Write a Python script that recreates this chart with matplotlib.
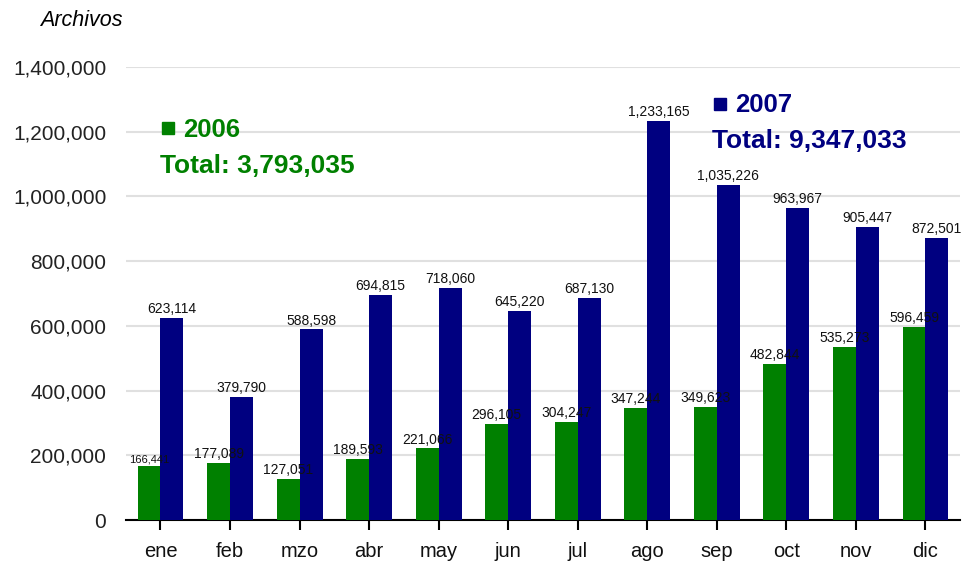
import numpy as np
import matplotlib.pyplot as plt
from matplotlib.lines import Line2D

months = ['ene', 'feb', 'mzo', 'abr', 'may', 'jun', 'jul', 'ago', 'sep', 'oct', 'nov', 'dic']
v2006 = [166441, 177089, 127051, 189593, 221066, 296105, 304247, 347244, 349623, 482844, 535273, 596459]
v2007 = [623114, 379790, 588598, 694815, 718060, 645220, 687130, 1233165, 1035226, 963967, 905447, 872501]
yticks = [0, 200000, 400000, 600000, 800000, 1000000, 1200000, 1400000]

green = '#008000'
navy = '#000080'

plt.rcParams['font.family'] = ['Liberation Sans', 'DejaVu Sans']

fig = plt.figure(figsize=(9.67, 5.61), dpi=100)
ax = fig.add_axes([0.130, 0.073, 0.863, 0.808])

x = np.arange(len(months))
w = 0.33
ax.bar(x - w/2, v2006, w, color=green, zorder=3)
ax.bar(x + w/2, v2007, w, color=navy, zorder=3)

for i in range(len(months)):
    fs = 8 if i == 0 else 10
    ax.text(x[i] - w/2, v2006[i] + 6000, f'{v2006[i]:,}', ha='center', va='bottom',
            fontsize=fs, color='#111111', zorder=4)
    ax.text(x[i] + w/2, v2007[i] + 6000, f'{v2007[i]:,}', ha='center', va='bottom',
            fontsize=10, color='#111111', zorder=4, clip_on=False)

ax.set_xlim(-0.5, len(months) - 0.5)
ax.set_ylim(0, 1400000)
ax.set_yticks(yticks)
ax.set_yticklabels([f'{t:,}' for t in yticks], fontsize=15, color='#222222')
ax.set_xticks(x)
ax.set_xticklabels(months, fontsize=14.5, color='#111111')
ax.tick_params(axis='y', length=0, pad=14)
ax.tick_params(axis='x', length=7.5, width=1.5, direction='out', pad=8)
ax.yaxis.grid(True, color='#e0e0e0', linewidth=1.5, zorder=0)
for s in ['left', 'right', 'top']:
    ax.spines[s].set_visible(False)
ax.spines['bottom'].set_linewidth(1.5)

fig.text(0.041, 0.964, 'Archivos', fontsize=15.5, style='italic', va='center', ha='left')

# legend-like annotations
fig.add_artist(Line2D([0.174], [1 - 128 / 561], marker='s', markersize=8.5, color=green,
                      transform=fig.transFigure))
fig.text(0.189, 1 - 130 / 561, '2006', fontsize=18.5, fontweight='bold', color=green, va='center', ha='left')
fig.text(0.165, 1 - 166 / 561, 'Total: 3,793,035', fontsize=19, fontweight='bold', color=green,
         va='center', ha='left')
fig.add_artist(Line2D([0.745], [1 - 103.5 / 561], marker='s', markersize=8.5, color=navy,
                      transform=fig.transFigure))
fig.text(0.760, 1 - 105 / 561, '2007', fontsize=18.5, fontweight='bold', color=navy, va='center', ha='left')
fig.text(0.736, 1 - 141 / 561, 'Total: 9,347,033', fontsize=19, fontweight='bold', color=navy,
         va='center', ha='left')

fig.savefig('out.png', dpi=100)
